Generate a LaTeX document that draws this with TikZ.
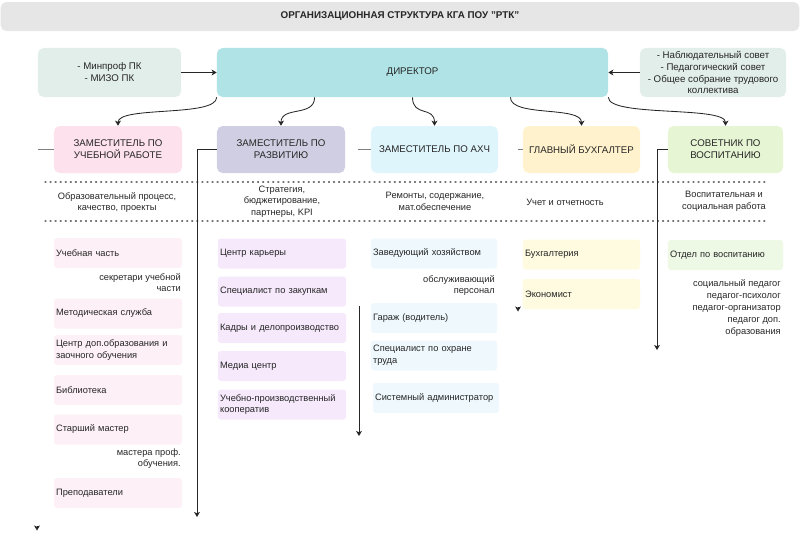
\documentclass[tikz,border=0pt]{standalone}
\usepackage{fontspec}
\setmainfont{Liberation Sans}
\usepackage{xcolor}
\usetikzlibrary{arrows.meta,calc}
\definecolor{titlegray}{HTML}{E6E6E6}
\definecolor{sidegray}{HTML}{E2EEEA}
\definecolor{dirteal}{HTML}{B0E3E6}
\definecolor{pinkh}{HTML}{FDE1EC}
\definecolor{lavh}{HTML}{D0CEE2}
\definecolor{blueh}{HTML}{DFF5FC}
\definecolor{yelh}{HTML}{FFF2CC}
\definecolor{greenh}{HTML}{E6F5D3}
\definecolor{pinku}{HTML}{FDF0F6}
\definecolor{lavu}{HTML}{F5E9FB}
\definecolor{blueu}{HTML}{EFF9FD}
\definecolor{yelu}{HTML}{FEFBE0}
\definecolor{greenu}{HTML}{EDF8E5}

\begin{document}
\begin{tikzpicture}[x=0.025cm, y=-0.025cm,
  font=\fontsize{6.6}{8.3}\selectfont, text=black!85,
  hdr/.style={rounded corners=4pt, align=center, minimum height=1.175cm, inner sep=2pt,
              font=\fontsize{6.9}{8.5}\selectfont},
  unit/.style={rounded corners=2pt, align=left, minimum height=0.75cm,
               inner xsep=1.5pt, inner ysep=1pt},
  note/.style={align=right, anchor=east, inner sep=0pt},
  flow/.style={-{Stealth[length=3.6pt,width=4.2pt,inset=1pt]}, line width=0.6pt, draw=black!85},
  stub/.style={line width=0.5pt, draw=black!50},
  sep/.style={line width=0.9pt, draw=black!55, dash pattern=on 0.7pt off 2.9pt, line cap=round}]
  \useasboundingbox (0,0) rectangle (800,541);
  % top row
  \node[fill=titlegray, rounded corners=4pt, minimum width=19.96cm, minimum height=0.725cm,
        font=\fontsize{7}{8.4}\selectfont\bfseries] (title) at (400,16.5)
    {ОРГАНИЗАЦИОННАЯ СТРУКТУРА КГА ПОУ "РТК"};
  \node[fill=sidegray, rounded corners=4pt, minimum width=3.575cm, minimum height=1.225cm,
        align=center, font=\fontsize{6.9}{8.5}\selectfont] (min) at (109.5,72.5) {- Минпроф ПК\\- МИЗО ПК};
  \node[fill=dirteal, rounded corners=4pt, minimum width=9.775cm, minimum height=1.225cm,
        font=\fontsize{6.9}{8.5}\selectfont] (dir) at (412.5,72.5) {ДИРЕКТОР};
  \node[fill=sidegray, rounded corners=4pt, minimum width=3.65cm, minimum height=1.225cm,
        align=center, inner ysep=1pt, font=\fontsize{6.9}{8.5}\selectfont] (sov) at (713,72.5)
    {- Наблюдательный совет\\- Педагогический совет\\- Общее собрание трудового\\коллектива};
  \draw[flow] (min.east) -- (dir.west);
  \draw[flow] (sov.west) -- (dir.east);
  % heads
  \node[hdr, fill=pinkh, minimum width=3.2cm] (zur) at (118,149.5) {ЗАМЕСТИТЕЛЬ ПО\\УЧЕБНОЙ РАБОТЕ};
  \node[hdr, fill=lavh, minimum width=3.2cm] (zrv) at (281,149.5) {ЗАМЕСТИТЕЛЬ ПО\\РАЗВИТИЮ};
  \node[hdr, fill=blueh, minimum width=3.175cm] (zax) at (434.5,149.5) {ЗАМЕСТИТЕЛЬ ПО АХЧ};
  \node[hdr, fill=yelh, minimum width=2.925cm] (gb) at (581.5,149.5) {ГЛАВНЫЙ БУХГАЛТЕР};
  \node[hdr, fill=greenh, minimum width=2.875cm] (sv) at (725.5,149.5) {СОВЕТНИК ПО\\ВОСПИТАНИЮ};
  \draw[flow] (dir.south west) .. controls +(0,20) and +(0,-20) .. (zur.north);
  \draw[flow] ($(dir.south west)!.25!(dir.south east)$) .. controls +(0,20) and +(0,-20) .. (zrv.north);
  \draw[flow] ($(dir.south west)!.5!(dir.south east)$) .. controls +(0,20) and +(0,-20) .. (zax.north);
  \draw[flow] ($(dir.south west)!.75!(dir.south east)$) .. controls +(0,20) and +(0,-20) .. (gb.north);
  \draw[flow] (dir.south east) .. controls +(0,20) and +(0,-20) .. (sv.north);
  % duties
  \draw[sep] (45,182) -- (767,182);
  \node[align=center] (dzur) at (117,202.5) {Образовательный процесс,\\качество, проекты};
  \node[align=center] (dzrv) at (282,201.5) {Стратегия,\\бюджетирование,\\партнеры, KPI};
  \node[align=center] (dzax) at (435,201.5) {Ремонты, содержание,\\мат.обеспечение};
  \node (dgb) at (565,202) {Учет и отчетность};
  \node[align=center] (dsv) at (724,201.5) {Воспитательная и\\социальная работа};
  \draw[sep] (45,221) -- (767,221);
  % units
  \node[unit, fill=pinku, text width=3.095cm] (u11) at (118,253) {Учебная часть};
  \node[note] (n11) at (181,282.5) {секретари учебной\\части};
  \node[unit, fill=pinku, text width=3.095cm] (u12) at (118,313.5) {Методическая служба};
  \node[unit, fill=pinku, text width=3.095cm] (u13) at (118,350) {Центр доп.образования и\\заочного обучения};
  \node[unit, fill=pinku, text width=3.095cm] (u14) at (118,390) {Библиотека};
  \node[unit, fill=pinku, text width=3.095cm] (u15) at (118,429.5) {Старший мастер};
  \node[note] (n15) at (181,458.5) {мастера проф.\\обучения.};
  \node[unit, fill=pinku, text width=3.095cm] (u16) at (118,493) {Преподаватели};

  \node[unit, fill=lavu, text width=3.095cm] (u21) at (282,253.5) {Центр карьеры};
  \node[unit, fill=lavu, text width=3.095cm] (u22) at (282,291.5) {Специалист по закупкам};
  \node[unit, fill=lavu, text width=3.095cm] (u23) at (282,328) {Кадры и делопроизводство};
  \node[unit, fill=lavu, text width=3.095cm] (u24) at (282,366) {Медиа центр};
  \node[unit, fill=lavu, text width=3.095cm] (u25) at (282,404.5) {Учебно-производственный\\кооператив};

  \node[unit, fill=blueu, text width=3.045cm] (u31) at (434,253.5) {Заведующий хозяйством};
  \node[note] (n31) at (495,285.5) {обслуживающий\\персонал};
  \node[unit, fill=blueu, text width=3.045cm] (u32) at (434,318) {Гараж (водитель)};
  \node[unit, fill=blueu, text width=3.045cm] (u33) at (434,355.5) {Специалист по охране\\труда};
  \node[unit, fill=blueu, text width=3.045cm] (u34) at (436,398) {Системный администратор};

  \node[unit, fill=yelu, text width=2.82cm] (u41) at (581.5,254.5) {Бухгалтерия};
  \node[unit, fill=yelu, text width=2.82cm] (u42) at (581.5,294) {Экономист};

  \node[unit, fill=greenu, text width=2.77cm] (u51) at (725.5,255) {Отдел по воспитанию};
  \node[note, font=\fontsize{6.6}{8.5}\selectfont] (n51) at (781,308)
    {социальный педагог\\педагог-психолог\\педагог-организатор\\педагог доп.\\образования};
  % side lines
  \coordinate (e1) at (37,526);
  \coordinate (e2) at (197,517);
  \coordinate (v3a) at (359,306);
  \coordinate (v3b) at (359,436);
  \coordinate (e4) at (518,307);
  \coordinate (e5) at (657,350);
  \draw[stub] (zur.west) -- ++(-16,0);
  \draw[flow] (e1) -- ++(0,4.5);
  \draw[flow] (zrv.west) -| (e2);
  \draw[stub] (zax.west) -- ++(-13,0);
  \draw[flow] (v3a) -- (v3b);
  \draw[stub] (gb.west) -- ++(-5,0);
  \draw[flow] (e4) -- ++(0,4.5);
  \draw[flow] (sv.west) -| (e5);
\end{tikzpicture}
\end{document}
